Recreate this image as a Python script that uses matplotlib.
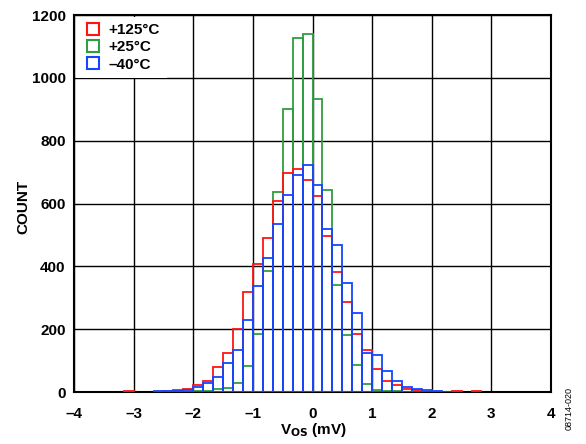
import numpy as np
import matplotlib.pyplot as plt
from matplotlib.lines import Line2D

plt.rcParams['font.family'] = ['Liberation Sans', 'DejaVu Sans']
plt.rcParams['font.weight'] = 'bold'

# histogram bins are 1/6 mV wide, first bin starts at -19/6 mV
bin_start = -19
bin_width = 1.0 / 6

count_125 = [3, 0, 0, 0, 3, 5, 10, 22, 34, 81, 124, 200, 318, 406, 491, 608, 697, 710,
             676, 624, 495, 382, 285, 186, 133, 72, 34, 22, 10, 6, 0, 0, 0, 3, 0, 3]
count_25 = [0, 0, 0, 0, 0, 0, 1, 3, 4, 8, 12, 28, 82, 184, 385, 637, 900, 1128,
            1139, 932, 642, 340, 183, 86, 27, 6, 4, 2, 1, 0, 0, 0, 0, 0, 0, 0]
count_m40 = [0, 0, 0, 3, 2, 4, 7, 15, 28, 47, 91, 133, 230, 338, 428, 536, 626, 691,
             724, 659, 520, 468, 347, 251, 124, 118, 68, 35, 17, 11, 5, 3, 1, 0, 0, 0]

labels = ['+125°C', '+25°C', '–40°C']
colors = ['#ff1414', '#2f9e3f', '#1446ff']

fig = plt.figure(figsize=(5.86, 4.44), dpi=100)
ax = fig.add_axes([0.1263, 0.1171, 0.8140, 0.8491])

lefts = (bin_start + np.arange(len(count_125))) * bin_width

# draw order: green, red, blue (blue on top)
for counts, col in [(count_25, colors[1]), (count_125, colors[0]), (count_m40, colors[2])]:
    c = np.array(counts)
    m = c > 0
    ax.bar(lefts[m], c[m], width=bin_width, align='edge', fill=False,
           edgecolor=col, linewidth=1.3, zorder=3)

ax.set_xlim(-4, 4)
ax.set_ylim(0, 1200)
ax.set_xticks(np.arange(-4, 5, 1))
ax.set_yticks(np.arange(0, 1201, 200))
ax.set_xticklabels(['–4', '–3', '–2', '–1', '0', '1', '2', '3', '4'])
ax.tick_params(length=0, labelsize=11)
ax.tick_params(axis='x', pad=11)
ax.tick_params(axis='y', pad=6)
for t in ax.get_xticklabels() + ax.get_yticklabels():
    t.set_fontweight('bold')
ax.grid(True, color='black', linewidth=1.0, zorder=0)
ax.set_axisbelow(True)
for s in ax.spines.values():
    s.set_linewidth(1.5)

ax.set_xlabel(r'V$_{\mathbf{OS}}$ (mV)', fontsize=11, fontweight='bold')
ax.xaxis.set_label_coords(0.501, -0.077)
ax.set_ylabel('COUNT', fontsize=11, fontweight='bold')
ax.yaxis.set_label_coords(-0.092, 0.49)

handles = [Line2D([], [], linestyle='none', marker='s', markersize=8,
                  markerfacecolor='none', markeredgecolor=c, markeredgewidth=1.5)
           for c in colors]
leg = ax.legend(handles, labels, loc='upper left', frameon=True, fancybox=False,
                framealpha=1, edgecolor='none', borderaxespad=0.1, borderpad=0.45,
                labelspacing=0.2, handletextpad=0.3, handlelength=1.4,
                prop={'weight': 'bold', 'size': 11})
leg.set_zorder(5)

fig.text(0.972, 0.079, '08714-020', rotation=90, fontsize=6.5, fontweight='normal',
         ha='center', va='center')

fig.savefig('out.png', dpi=100)
